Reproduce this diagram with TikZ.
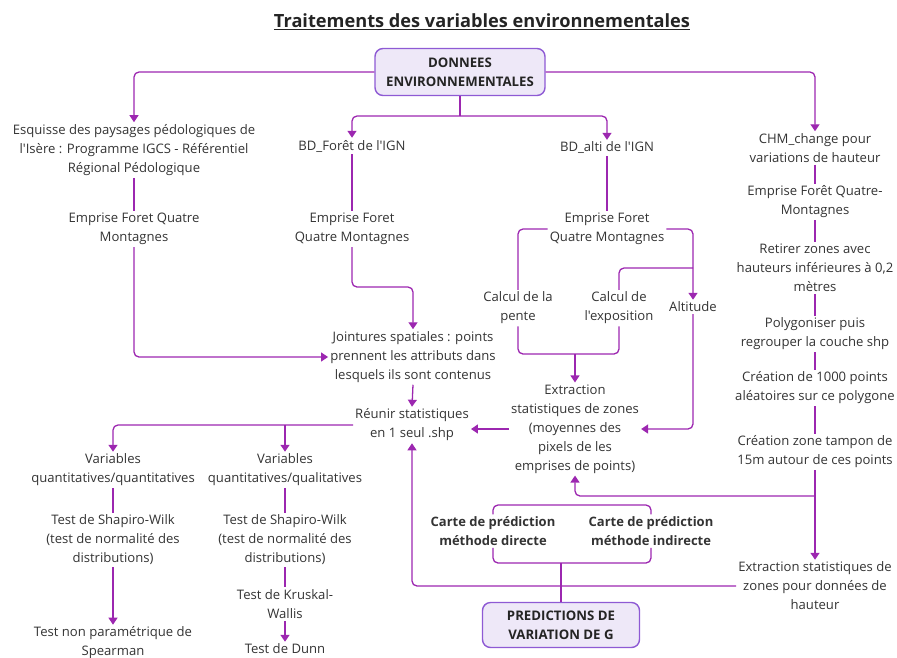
\documentclass[tikz,border=0pt]{standalone}
\usepackage{fontspec}
\setmainfont{Open Sans}[Ligatures=TeXOff]
\usetikzlibrary{arrows.meta,positioning}
\definecolor{lienviolet}{RGB}{156,39,176}
\definecolor{fondboite}{RGB}{238,232,248}
\definecolor{bordboite}{RGB}{142,90,212}
\definecolor{gristexte}{RGB}{51,51,51}
\begin{document}
\begin{tikzpicture}[x=1pt,y=-1pt,
  txt/.style={align=center,text=gristexte,inner sep=2pt,font=\fontsize{13.1}{19}\selectfont},
  gras/.style={txt,font=\fontsize{13}{19}\selectfont\bfseries},
  boite/.style={draw=bordboite,fill=fondboite,rounded corners=8pt,line width=1.4pt,
    align=center,text=gristexte!70!black,font=\fontsize{13.2}{19}\selectfont\bfseries},
  lien/.style={draw=lienviolet,line width=1.3pt,rounded corners=5pt},
  fl/.style={lien,-{Triangle[width=9pt,length=7pt]}}]
\useasboundingbox (0,0) rectangle (897,657);
\node[font=\fontsize{18.2}{22}\selectfont\bfseries,text=gristexte!70!black] (titre) at (482,22) {\underline{Traitements des variables environnementales}};
\node[boite,minimum width=170pt,minimum height=47pt] (don) at (460,72) {DONNEES\\ENVIRONNEMENTALES};
\node[boite,minimum width=157pt,minimum height=45pt] (pred) at (561,625) {PREDICTIONS DE\\VARIATION DE G};

\node[txt] (esq) at (134,150) {Esquisse des paysages pédologiques de\\l'Isère : Programme IGCS - Référentiel\\Régional Pédologique};
\node[txt] (emp1) at (134,229) {Emprise Foret Quatre\\Montagnes};
\node[txt] (bdf) at (352,146) {BD\_Forêt de l'IGN};
\node[txt] (emp2) at (352,229) {Emprise Foret\\Quatre Montagnes};
\node[txt] (joint) at (413,357) {Jointures spatiales : points\\prennent les attributs dans\\lesquels ils sont contenus};
\node[txt] (reu) at (412,425) {Réunir statistiques\\en 1 seul .shp};
\node[txt] (var1) at (113,470) {Variables\\quantitatives/quantitatives};
\node[txt] (var2) at (285,470) {Variables\\quantitatives/qualitatives};
\node[txt] (sha1) at (113,540) {Test de Shapiro-Wilk\\(test de normalité des\\distributions)};
\node[txt] (sha2) at (285,540) {Test de Shapiro-Wilk\\(test de normalité des\\distributions)};
\node[txt] (spear) at (113,643) {Test non paramétrique de\\Spearman};
\node[txt] (krus) at (285,604) {Test de Kruskal-\\Wallis};
\node[txt] (dunn) at (285,649) {Test de Dunn};

\node[txt] (bda) at (607,148) {BD\_alti de l'IGN};
\node[txt] (emp3) at (607,229) {Emprise Foret\\Quatre Montagnes};
\node[txt] (pente) at (518,308) {Calcul de la\\pente};
\node[txt] (expo) at (619,308) {Calcul de\\l'exposition};
\node[txt] (alt) at (693,307) {Altitude};
\node[txt] (extr) at (575,429) {Extraction\\statistiques de zones\\(moyennes des\\pixels de les\\emprises de points)};
\node[gras] (cd) at (493,531) {Carte de prédiction\\méthode directe};
\node[gras] (ci) at (651,531) {Carte de prédiction\\méthode indirecte};

\node[txt] (chm) at (815,148) {CHM\_change pour\\variations de hauteur};
\node[txt] (emp4) at (815,202) {Emprise Forêt Quatre-\\Montagnes};
\node[txt] (ret) at (815,268) {Retirer zones avec\\hauteurs inférieures à 0,2\\mètres};
\node[txt] (poly) at (815,334) {Polygoniser puis\\regrouper la couche shp};
\node[txt] (crea) at (815,388) {Création de 1000 points\\aléatoires sur ce polygone};
\node[txt] (tamp) at (815,452) {Création zone tampon de\\15m autour de ces points};
\node[txt] (hext) at (815,586) {Extraction statistiques de\\zones pour données de\\hauteur};

\coordinate (b1) at (460,116);
\coordinate (b2) at (413,287);
\coordinate (b3) at (693,268);
\coordinate (b4) at (575,354);
\coordinate (b5) at (815,496);
\coordinate (b6) at (575,505);
\coordinate (b7) at (561,563);

\draw[fl] (don.west) -| (esq.north);
\draw[fl] (don.east) -| (chm.north);
\draw[lien] (don.south) -- (b1);
\draw[fl] (b1) -| (bdf.north);
\draw[fl] (b1) -| (bda.north);

\draw[lien] (esq.south) -- (emp1.north);
\draw[fl] (emp1.south) |- (joint.west);
\draw[lien] (bdf.south) -- (emp2.north);
\draw[fl] (emp2.south) |- (b2) -- (joint.north);
\draw[fl] (joint.south) -- (reu.north);
\draw[fl] (reu.west) -| (var1.north);
\draw[fl] (var2.north |- reu.west) -- (var2.north);
\draw[lien] (var1.south) -- (sha1.north);
\draw[fl] (sha1.south) -- (spear.north);
\draw[lien] (var2.south) -- (sha2.north);
\draw[lien] (sha2.south) -- (krus.north);
\draw[fl] (krus.south) -- (dunn.north);

\draw[lien] (bda.south) -- (emp3.north);
\draw[lien] (emp3.west) -| (pente.north);
\draw[fl] (emp3.east) -| (alt.north);
\draw[lien] (b3) -| (expo.north);
\draw[lien] (pente.south) |- (b4) -| (expo.south);
\draw[fl] (b4) -- (extr.north);
\draw[fl] (alt.south) |- (extr.east);
\draw[fl] (extr.west) -- (extr.west -| reu.east);

\draw[lien] (chm.south) -- (emp4.north);
\draw[lien] (emp4.south) -- (ret.north);
\draw[lien] (ret.south) -- (poly.north);
\draw[lien] (poly.south) -- (crea.north);
\draw[lien] (crea.south) -- (tamp.north);
\draw[fl] (tamp.south) -- (hext.north);
\draw[fl] (b5) -| (extr.south);
\draw[lien] (cd.north) |- (b6) -| (ci.north);
\draw[lien] (cd.south) |- (b7) -| (ci.south);
\draw[lien] (b7) -- (pred.north);
\draw[fl] (hext.west) -| (reu.south);
\end{tikzpicture}
\end{document}
